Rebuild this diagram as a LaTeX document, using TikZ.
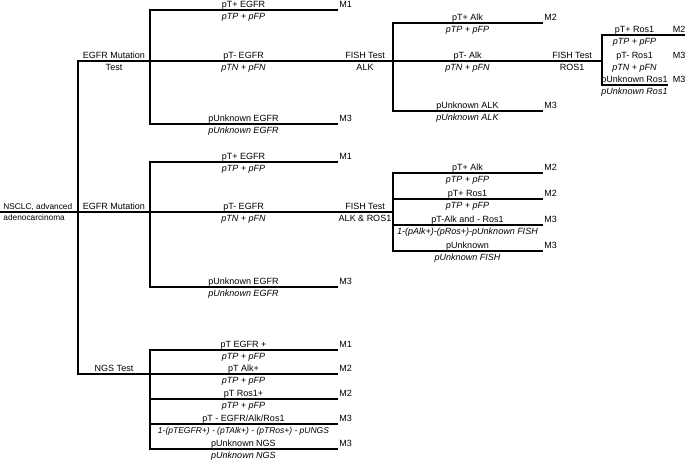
\documentclass[tikz,border=0pt]{standalone}
\usepackage{fontspec}
\setmainfont{Liberation Sans}
\begin{document}
\begin{tikzpicture}[x=1pt,y=-1pt,line width=1.9pt,line cap=rect,
    txt/.style={font=\fontsize{9}{10}\selectfont,inner sep=0pt},
    up/.style={txt,anchor=base,yshift=2.2pt},
    dn/.style={txt,anchor=base,yshift=-9.6pt},
    prob/.style={dn,font=\fontsize{9}{10}\selectfont\itshape},
    mlab/.style={txt,anchor=base west,xshift=1.5pt,yshift=2.2pt},
    rootup/.style={up,anchor=base west,xshift=2.5pt,font=\fontsize{8.3}{9}\selectfont},
    rootdn/.style={rootup,yshift=-10.5pt}]
  \useasboundingbox (0,0) rectangle (685,463);

  % root and spine
  \coordinate (root) at (0,212);
  \coordinate (s1) at (78,61);
  \coordinate (s2) at (78,212);
  \coordinate (s3) at (78,374);
  \draw (s1) -- (s3);
  \draw (root) -- (s2);
  \node[rootup] (nsclc) at (root) {NSCLC, advanced};
  \node[rootdn] (adeno) at (root) {adenocarcinoma};

  % EGFR mutation test (top)
  \coordinate (a0) at (150,61);
  \coordinate (a1) at (150,10);  \coordinate (a1e) at (337,10);
  \coordinate (a2e) at (337,61);
  \coordinate (a3) at (150,124); \coordinate (a3e) at (337,124);
  \draw (s1) -- node[up] (egfr1) {EGFR Mutation} node[dn] (test1) {Test} (a0);
  \draw (a1) -- (a3);
  \draw (a1) -- node[up] (a1t) {pT+ EGFR} node[prob] (a1p) {pTP + pFP} (a1e) node[mlab] (a1m) {M1};
  \draw (a0) -- node[up] (a2t) {pT- EGFR} node[prob] (a2p) {pTN + pFN} (a2e);
  \draw (a3) -- node[up] (a3t) {pUnknown EGFR} node[prob] (a3p) {pUnknown EGFR} (a3e) node[mlab] (a3m) {M3};

  % FISH test ALK
  \coordinate (b0) at (393,61);
  \coordinate (b1) at (393,23);  \coordinate (b1e) at (542,23);
  \coordinate (b2e) at (542,61);
  \coordinate (b3) at (393,111); \coordinate (b3e) at (542,111);
  \draw (a2e) -- node[up] (fish1) {FISH Test} node[dn] (alk1) {ALK} (b0);
  \draw (b1) -- (b3);
  \draw (b1) -- node[up] (b1t) {pT+ Alk} node[prob] (b1p) {pTP + pFP} (b1e) node[mlab] (b1m) {M2};
  \draw (b0) -- node[up] (b2t) {pT- Alk} node[prob] (b2p) {pTN + pFN} (b2e);
  \draw (b3) -- node[up] (b3t) {pUnknown ALK} node[prob] (b3p) {pUnknown ALK} (b3e) node[mlab] (b3m) {M3};

  % FISH test ROS1
  \coordinate (c0) at (602,61);
  \coordinate (c1) at (602,35);  \coordinate (c1e) at (667,35); \coordinate (c1x) at (685,35);
  \coordinate (c2e) at (667,61);
  \coordinate (c3) at (602,85);  \coordinate (c3e) at (667,85);
  \draw (b2e) -- node[up] (fish2) {FISH Test} node[dn] (ros1) {ROS1} (c0);
  \draw (c1) -- (c3);
  \draw (c1) -- node[up] (c1t) {pT+ Ros1} node[prob] (c1p) {pTP + pFP} (c1e) -- (c1x);
  \path (c0) -- node[up] (c2t) {pT- Ros1} node[prob] (c2p) {pTN + pFN} (c2e);
  \draw (c3) -- node[up] (c3t) {pUnknown Ros1} node[prob] (c3p) {pUnknown Ros1} (c3e);
  \node[mlab,xshift=3.5pt] (c1m) at (c1e) {M2};
  \node[mlab,xshift=3.5pt] (c2m) at (c2e) {M3};
  \node[mlab,xshift=3.5pt] (c3m) at (c3e) {M3};

  % EGFR mutation (middle)
  \coordinate (d0) at (150,212);
  \coordinate (d1) at (150,162); \coordinate (d1e) at (337,162);
  \coordinate (d2e) at (337,212);
  \coordinate (d3) at (150,287); \coordinate (d3e) at (337,287);
  \draw (s2) -- node[up] (egfr2) {EGFR Mutation} (d0);
  \draw (d1) -- (d3);
  \draw (d1) -- node[up] (d1t) {pT+ EGFR} node[prob] (d1p) {pTP + pFP} (d1e) node[mlab] (d1m) {M1};
  \draw (d0) -- node[up] (d2t) {pT- EGFR} node[prob] (d2p) {pTN + pFN} (d2e);
  \draw (d3) -- node[up] (d3t) {pUnknown EGFR} node[prob] (d3p) {pUnknown EGFR} (d3e) node[mlab] (d3m) {M3};

  % FISH test ALK & ROS1
  \coordinate (f0) at (393,212);
  \coordinate (f1) at (393,173); \coordinate (f1e) at (542,173);
  \coordinate (f2) at (393,199); \coordinate (f2e) at (542,199);
  \coordinate (f3) at (393,225); \coordinate (f3e) at (542,225);
  \coordinate (f4) at (393,251); \coordinate (f4e) at (542,251);
  \draw (d2e) -- node[up] (fish3) {FISH Test} node[dn] (alkros) {ALK \& ROS1} (f0);
  \draw (f1) -- (f4);
  \draw (f1) -- node[up] (f1t) {pT+ Alk} node[prob] (f1p) {pTP + pFP} (f1e) node[mlab] (f1m) {M2};
  \draw (f2) -- node[up] (f2t) {pT+ Ros1} node[prob] (f2p) {pTP + pFP} (f2e) node[mlab] (f2m) {M2};
  \draw (f3) -- node[up] (f3t) {pT-Alk and - Ros1} node[prob] (f3p) {1-(pAlk+)-(pRos+)-pUnknown FISH} (f3e) node[mlab] (f3m) {M3};
  \draw (f4) -- node[up] (f4t) {pUnknown} node[prob] (f4p) {pUnknown FISH} (f4e) node[mlab] (f4m) {M3};

  % NGS test
  \coordinate (g0) at (150,374);
  \coordinate (g1) at (150,350); \coordinate (g1e) at (337,350);
  \coordinate (g2e) at (337,374);
  \coordinate (g3) at (150,399); \coordinate (g3e) at (337,399);
  \coordinate (g4) at (150,424); \coordinate (g4e) at (337,424);
  \coordinate (g5) at (150,449); \coordinate (g5e) at (337,449);
  \draw (s3) -- node[up] (ngs) {NGS Test} (g0);
  \draw (g1) -- (g5);
  \draw (g1) -- node[up] (g1t) {pT EGFR +} node[prob] (g1p) {pTP + pFP} (g1e) node[mlab] (g1m) {M1};
  \draw (g0) -- node[up] (g2t) {pT Alk+} node[prob] (g2p) {pTP + pFP} (g2e) node[mlab] (g2m) {M2};
  \draw (g3) -- node[up] (g3t) {pT Ros1+} node[prob] (g3p) {pTP + pFP} (g3e) node[mlab] (g3m) {M2};
  \draw (g4) -- node[up] (g4t) {pT - EGFR/Alk/Ros1} node[prob,font=\fontsize{8.5}{10}\selectfont\itshape] (g4p) {1-(pTEGFR+) - (pTAlk+) - (pTRos+) - pUNGS} (g4e) node[mlab] (g4m) {M3};
  \draw (g5) -- node[up] (g5t) {pUnknown NGS} node[prob] (g5p) {pUnknown NGS} (g5e) node[mlab] (g5m) {M3};
\end{tikzpicture}
\end{document}
